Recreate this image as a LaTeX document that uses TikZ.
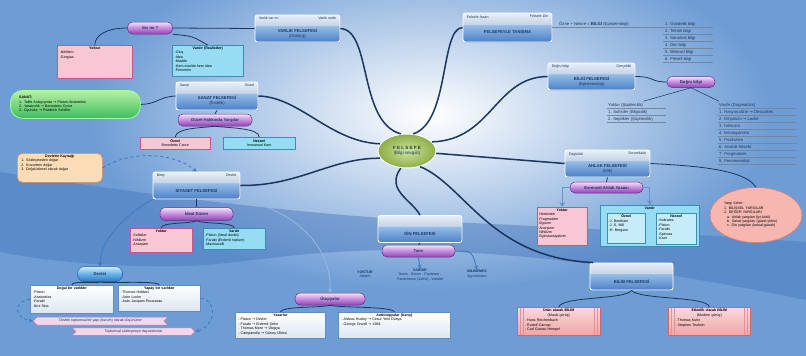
\documentclass[tikz,border=0pt]{standalone}
\usepackage{fontspec}
\setmainfont{Liberation Sans}
\newfontfamily\dejavu{DejaVu Sans}
\usetikzlibrary{calc,shadows,shapes.geometric,shapes.symbols,arrows.meta}
\setlength{\parindent}{0pt}
\definecolor{bgblue}{HTML}{6E9DD5}
\definecolor{bgdark}{HTML}{4676BC}
\definecolor{navy}{HTML}{1B355F}
\definecolor{hdtop}{HTML}{E8EFF7}
\definecolor{hdbot}{HTML}{C4D4E8}
\definecolor{tttop}{HTML}{97BDE7}
\definecolor{ttbot}{HTML}{4A80C8}
\definecolor{pltop}{HTML}{F6E2F9}
\definecolor{plmid}{HTML}{C78FE0}
\definecolor{plbot}{HTML}{8C45B2}
\definecolor{plline}{HTML}{6A2F8E}
\definecolor{bltop}{HTML}{D2EEFB}
\definecolor{blmid}{HTML}{6DB6EA}
\definecolor{blbot}{HTML}{2C78C4}
\definecolor{blline}{HTML}{1E5C9C}
\definecolor{pinkfill}{HTML}{F9C6D5}
\definecolor{pinkline}{HTML}{C45A82}
\definecolor{cyanfill}{HTML}{96DDF3}
\definecolor{cyanline}{HTML}{3A8DB6}
\definecolor{grtop}{HTML}{B6F0A8}
\definecolor{grbot}{HTML}{3DBE5A}
\definecolor{orfill}{HTML}{FCDDB8}
\definecolor{orline}{HTML}{E08A4A}
\definecolor{redtop}{HTML}{FADADA}
\definecolor{redbot}{HTML}{F2A4A6}
\definecolor{redline}{HTML}{D2646C}
\definecolor{circfill}{HTML}{F7B7B0}
\definecolor{circline}{HTML}{D9806E}
\definecolor{grayfill}{HTML}{DCE6F2}
\definecolor{grayline}{HTML}{5E8CC4}
\definecolor{ribfill}{HTML}{F1D6EC}
\definecolor{ribline}{HTML}{B27AAE}
\definecolor{arrblue}{HTML}{3F7BC4}
\definecolor{flgreen}{HTML}{A6CC52}
\pgfdeclareverticalshading{boxshade}{100bp}{color(0bp)=(ttbot); color(25bp)=(ttbot); color(54.5bp)=(tttop); color(55.5bp)=(hdbot); color(75bp)=(hdtop); color(100bp)=(hdtop)}
\pgfdeclareverticalshading{pillshade}{100bp}{color(0bp)=(plbot); color(25bp)=(plbot); color(52bp)=(plmid); color(75bp)=(pltop); color(100bp)=(pltop)}
\pgfdeclareverticalshading{bpillshade}{100bp}{color(0bp)=(blbot); color(25bp)=(blbot); color(52bp)=(blmid); color(75bp)=(bltop); color(100bp)=(bltop)}
\newcommand{\fs}{\fontsize{3.6}{4.4}\selectfont}
\newcommand{\fm}{\fontsize{4.2}{5}\selectfont}
\newcommand{\hdc}[1]{\makebox[\hsize]{\textbf{#1}}}
\newcommand{\rarr}{{\dejavu →}}
\tikzset{
 mainbox/.style={rectangle, rounded corners=2.5pt, draw=white, line width=0.9pt, shading=boxshade, drop shadow={opacity=0.35, shadow xshift=0.7pt, shadow yshift=-0.9pt}},
 hdr/.style={font=\fs, text=navy, inner sep=0pt},
 ttl/.style={font=\fontsize{4.2}{5}\selectfont\bfseries, text=navy, align=center, inner sep=0pt},
 pill/.style={rectangle, rounded corners=5pt, draw=plline, line width=0.5pt, shading=pillshade, font=\fm\bfseries, text=navy, inner sep=0pt},
 bpill/.style={pill, draw=blline, shading=bpillshade},
 pinkbox/.style={rectangle, draw=pinkline, fill=pinkfill, line width=0.5pt},
 cyanbox/.style={rectangle, draw=cyanline, fill=cyanfill, line width=0.5pt},
 lcyanbox/.style={rectangle, draw=cyanline, fill=cyanfill!55!white, line width=0.5pt},
 graybox/.style={rectangle, draw=grayline, top color=white, bottom color=grayfill, line width=0.6pt},
 orbox/.style={rectangle, rounded corners=5pt, draw=orline, fill=orfill, line width=0.6pt},
 greenbox/.style={rectangle, rounded corners=12pt, draw=white!60!green, line width=0.8pt, top color=grtop, bottom color=grbot},
 redbox/.style={rectangle, draw=redline, top color=redtop, bottom color=redbot, line width=0.6pt,
   path picture={\foreach \i in {3,6}{\draw[redline!70, line width=0.3pt] ($(path picture bounding box.north west)+(\i pt,0)$) -- ($(path picture bounding box.south west)+(\i pt,0)$); \draw[redline!70, line width=0.3pt] ($(path picture bounding box.north east)+(-\i pt,0)$) -- ($(path picture bounding box.south east)+(-\i pt,0)$);}}},
 ribbonbox/.style={shape=signal, draw=ribline, fill=ribfill, line width=0.5pt, font=\fs, text=navy, inner sep=0.5pt},
 boxtext/.style={font=\fs, align=left, inner sep=0pt, text=black},
 listitem/.style={font=\fm, inner sep=0pt, text=navy},
 xplain/.style={font=\fs, align=center, inner sep=0pt, text=navy},
 conn/.style={draw=navy, line width=1.5pt},
 xsub/.style={draw=navy, line width=0.8pt},
 xrule/.style={draw=navy!60, line width=0.4pt},
 xarr/.style={draw=arrblue, line width=0.9pt, -{Stealth[length=4pt,width=4pt]}},
 xdash/.style={draw=arrblue, line width=0.9pt, dashed, -{Stealth[length=4pt,width=4pt]}},
 xbarr/.style={draw=arrblue!80!white, line width=1.4pt, -{Stealth[length=5pt,width=6pt]}},
}
\newcommand{\felbox}[7]{%
 \node[mainbox, minimum width=#3, minimum height=#4] (#1) at (#2) {};
 \node[hdr, anchor=north west] (#1L) at ($(#1.north west)+(4,2.5)$) {#5};
 \node[hdr, anchor=north east] (#1R) at ($(#1.north east)+(-4,2.5)$) {#6};
 \node[ttl] (#1T) at ($(#1.center)+(0,5)$) {#7};
}
\newcommand{\tbox}[7]{%
 \node[#1, minimum width=#4, minimum height=#5, anchor=north west] (#2) at (#3) {};
 \node[boxtext, anchor=north, text width=#7] (#2t) at ($(#2.north)+(0,1.6)$) {#6};
}
\begin{document}
\begin{tikzpicture}[x=1pt,y=-1pt]
\useasboundingbox (0,0) rectangle (806,356);
\begin{scope}
\clip (0,0) rectangle (806,356);
\fill[bgblue] (0,0) rectangle (806,356);
\shade[inner color=white, outer color=bgblue] (430,115) ellipse [x radius=340pt, y radius=175pt];
\fill[bgdark, opacity=0.45] (0,172) .. controls (150,195) and (300,215) .. (450,222) .. controls (600,229) and (720,236) .. (806,242) -- (806,300) .. controls (650,268) and (520,252) .. (400,250) .. controls (300,250) and (250,263) .. (190,266) .. controls (120,268) and (50,262) .. (0,252) -- cycle;
\end{scope}

% central node
\node[ellipse, minimum width=58pt, minimum height=34pt, draw=white, line width=1pt, inner color=flgreen!55!white, outer color=flgreen!85!black, font=\fontsize{4.5}{5.4}\selectfont, align=center, text=navy] (felsefe) at (407,151) {\textbf{F E L S E F E}\\(Bilgi sevgisi)};

% main boxes
\felbox{varlik}{297.5,28.5}{85pt}{27pt}{Varlık var mı}{Varlık nedir}{VARLIK FELSEFESİ\\{\mdseries(Ontoloji)}}
\felbox{tanisma}{507.5,27.5}{89pt}{29pt}{Felsefe-İnsan}{Felsefe-Din}{FELSEFEYLE TANIŞMA}
\felbox{bilgi}{591.5,76.5}{87pt}{27pt}{Doğru bilgi}{Gerçeklik}{BİLGİ FELSEFESİ\\{\mdseries(Epistemoloji)}}
\felbox{sanat}{217,96}{82pt}{28pt}{Sanat}{Güzel}{SANAT FELSEFESİ\\{\mdseries(Estetik)}}
\felbox{siyaset}{196.5,185.5}{87pt}{27pt}{Birey}{Devlet}{SİYASET FELSEFESİ}
\felbox{din}{420,229}{84pt}{27pt}{}{}{DİN FELSEFESİ}
\felbox{ahlak}{607.5,163.5}{85pt}{27pt}{Özgürlük}{Sorumluluk}{AHLAK FELSEFESİ\\{\mdseries(Etik)}}
\felbox{bilim}{631.5,276.5}{83pt}{27pt}{}{}{BİLİM FELSEFESİ}

% pills
\node[pill, minimum width=45pt, minimum height=12pt] (pvar) at (150,28) {Var mı ?};
\node[pill, minimum width=74pt, minimum height=12pt] (psan) at (215,120) {Güzel Hakkında Yargılar};
\node[pill, minimum width=73pt, minimum height=13pt] (psiy) at (196.5,214) {İdeal Düzen};
\node[pill, minimum width=73pt, minimum height=11pt] (pahl) at (606.5,187.5) {Evrensel Ahlak Yasası};
\node[pill, minimum width=48pt, minimum height=11pt] (pbil) at (691,82) {Doğru bilgi};
\node[pill, minimum width=73pt, minimum height=12pt] (pdin) at (418.5,251) {Tanrı};
\node[pill, minimum width=70pt, minimum height=12pt] (puto) at (330,299) {Ütopyalar};
\node[bpill, minimum width=45pt, minimum height=15pt, rounded corners=7pt] (pdev) at (100,274) {Devlet};

% varlik boxes
\tbox{pinkbox}{vyok}{57,45}{75pt}{33pt}{\hdc{Yoktur}\\-Nihilizm\\-Gorgias}{70pt}
\tbox{cyanbox}{vvar}{172,45}{71pt}{31pt}{\hdc{Vardır (Realistler)}\\-Oluş\\-İdea\\-Madde\\-Hem madde hem idea\\-Fenomen}{66pt}

% sanat
\node[greenbox, minimum width=130pt, minimum height=28pt, anchor=north west] (gsan) at (10,90) {};
\node[boxtext, anchor=west, text width=118pt] (gsant) at ($(gsan.west)+(9,0)$) {\textbf{SANAT:}\\1. Taklit Anlayışında \rarr{} Platon-Aristoteles\\2. Yaratıcılık \rarr{} Benedetto Croce\\3. Oyundur \rarr{} Friedrich Schiller};
\node[pinkbox, minimum width=70pt, minimum height=12pt, anchor=north west, font=\fs, align=center, inner sep=0.5pt] (soz) at (140,137) {\textbf{Öznel}\\Benedetto Croce};
\node[cyanbox, minimum width=72pt, minimum height=12pt, anchor=north west, font=\fs, align=center, inner sep=0.5pt] (snes) at (223,137) {\textbf{Nesnel}\\Immanuel Kant};

% siyaset
\tbox{orbox}{kaynak}{17,153}{85pt}{29pt}{\hdc{Devletin Kaynağı}\\1. Sözleşmeden doğar\\2. Kuvvetten doğar\\3. Doğal/ailesel olarak doğar}{77pt}
\tbox{pinkbox}{syok}{130,228}{62pt}{24pt}{\hdc{Yoktur}\\-Sofistler\\-Nihilizm\\-Anarşizm}{58pt}
\tbox{cyanbox}{svar}{203,228}{62pt}{21pt}{\hdc{Vardır}\\-Platon (İdeal devlet)\\-Farabi (Erdemli toplum)\\-Machiavelli}{58pt}
\tbox{graybox}{dogal}{30,285}{83pt}{28pt}{\hdc{Doğal bir varlıktır}\\-Platon\\-Aristoteles\\-Farabi\\-İbni Sina}{77pt}
\tbox{graybox}{yapay}{118,285}{82pt}{26pt}{\hdc{Yapay bir varlıktır}\\-Thomas Hobbes\\-John Locke\\-Jean Jacques Rousseau}{76pt}
\node[ribbonbox, signal to=west, signal from=east, minimum width=135pt, minimum height=8pt] (rib1) at (100.5,321) {Devleti toplumsal bir yapı (kurum) olarak düşünürler};
\node[ribbonbox, signal to=east, signal from=west, minimum width=123pt, minimum height=7.5pt] (rib2) at (133.5,331.5) {Toplumsal sözleşmeye dayandırırlar};
\tbox{graybox}{yaz}{235,312}{90pt}{26pt}{\hdc{Yazarlar}\\- Platon \rarr{} Devlet\\- Farabi \rarr{} Erdemli Şehir\\- Thomas More \rarr{} Ütopya\\- Campanella \rarr{} Güneş Ülkesi}{84pt}
\tbox{graybox}{anti}{338,312}{112pt}{26pt}{\hdc{Antiütopyalar (Karşı)}\\- Aldous Huxley \rarr{} Cesur Yeni Dünya\\- George Orwell \rarr{} 1984}{106pt}

% din
\node[xplain] (dyok) at (365,274) {\textbf{YOKTUR}\\Ateizm};
\node[xplain] (dvar) at (420,275) {\textbf{VARDIR}\\Teizm - Deizm - Panteizm -\\Panenteizm (Varlık) - Vahdet};
\node[xplain] (dbil) at (477,274) {\textbf{BİLİNEMEZ}\\Agnostisizm};

% ahlak
\tbox{pinkbox}{ayok}{537,207}{50pt}{38pt}{\hdc{Yoktur}\\Hedonizm\\Pragmatizm\\Egoizm\\Anarşizm\\Nihilizm\\Egzistansiyalizm}{46pt}
\node[cyanbox, minimum width=99pt, minimum height=41pt, anchor=north west] (avar) at (600,205) {};
\node[boxtext, anchor=north, font=\fs\bfseries] (avart) at ($(avar.north)+(0,1.5)$) {Vardır};
\tbox{lcyanbox}{aoz}{607,213}{38pt}{30pt}{\hdc{Öznel}\\-J. Bentham\\-J. S. Mill\\-H. Bergson}{35pt}
\tbox{lcyanbox}{anes}{656,213}{40pt}{31pt}{\hdc{Nesnel}\\-Sokrates\\-Platon\\-Farabi\\-Spinoza\\-Kant}{36pt}
\node[ellipse, minimum width=92pt, minimum height=55pt, draw=circline, fill=circfill, line width=0.6pt] (yargi) at (756,215) {};
\node[boxtext, text width=70pt] (yargit) at (759,215) {Yargı türleri:\\1. BİLİŞSEL YARGILAR\\2. DEĞER YARGILARI\\\hspace*{3pt}a. Ahlak yargıları (iyi-kötü)\\\hspace*{3pt}b. Sanat yargıları (güzel-çirkin)\\\hspace*{3pt}c. Din yargıları (kutsal-günah)};

% bilim
\tbox{redbox}{urun}{517,307}{83pt}{28pt}{\hdc{Ürün olarak BİLİM}\\\makebox[\hsize]{(Klasik görüş)}\\[1pt]- Hans Reichenbach\\- Rudolf Carnap\\- Carl Gustav Hempel}{68pt}
\tbox{redbox}{etk}{668,307}{82pt}{28pt}{\hdc{Etkinlik olarak BİLİM}\\\makebox[\hsize]{(Modern görüş)}\\[1pt]- Thomas Kuhn\\- Stephen Toulmin}{68pt}

% bilgi lists
\node[listitem, anchor=base west] (ozne) at (559,25.5) {Özne + Nesne = \textbf{BİLGİ} (Epistemoloji)};
\draw[xrule] (tanisma.east) -- (713,27.5);
\foreach \itm [count=\k from 0] in {1. Gündelik bilgi, 2. Teknik bilgi, 3. Sanatsal bilgi, 4. Dini bilgi, 5. Bilimsel bilgi, 6. Felsefi bilgi}{
  \node[listitem, anchor=base west] (gb\k) at (665,25.5+7*\k) {\itm};
  \draw[xrule] (663,27.5+7*\k) -- (713,27.5+7*\k);
}
\node[listitem, anchor=base west] (byh) at (608,106) {Yoktur (Şüphecilik)};
\draw[xrule] (607,108) -- (666,108);
\foreach \itm [count=\k from 1] in {1. Sofistler (Bilgicilik), 2. Septikler (Şüphecilik)}{
  \node[listitem, anchor=base west] (by\k) at (608,106+7*\k) {\itm};
  \draw[xrule] (607,108+7*\k) -- (666,108+7*\k);
}
\node[listitem, anchor=base west] (bvh) at (719,106) {Vardır (Dogmatizm)};
\draw[xrule] (718,108) -- (797,108);
\foreach \itm [count=\k from 1] in {1. Rasyonalizm \rarr{} Descartes, 2. Empirizm \rarr{} Locke, 3. Kritisizm, 4. Entüisyonizm, 5. Pozitivizm, 6. Analitik felsefe, 7. Pragmatizm, 8. Fenomenoloji}{
  \node[listitem, anchor=base west] (bv\k) at (719,106+7*\k) {\itm};
  \draw[xrule] (718,108+7*\k) -- (797,108+7*\k);
}

% main connectors
\draw[conn] (varlik.east) .. controls (372,30) and (358,122) .. (felsefe.110);
\draw[conn] (tanisma.west) .. controls (440,28) and (450,122) .. (felsefe.70);
\draw[conn] (bilgi.west) .. controls (495,77) and (492,140) .. (felsefe.20);
\draw[conn] (sanat.east) .. controls (300,97) and (330,142) .. (felsefe.165);
\draw[conn] (siyaset.east) .. controls (300,186) and (330,158) .. (felsefe.195);
\draw[conn] (ahlak.west) -- (felsefe);
\draw[conn] (felsefe.250) .. controls (385,190) and (412,200) .. (din.north);
\draw[conn] (felsefe.-50) .. controls (465,185) and (490,258) .. (bilim.160);

% secondary connectors
\draw[xsub] (varlik.west) -- (pvar.east);
\draw[xsub] (pvar.west) .. controls (105,28) and (95,36) .. (vyok.north);
\draw[xsub] (pvar.south east) .. controls (192,36) .. (vvar.north);
\draw[xsub] (gsan.east) .. controls (158,104) and (158,97) .. (sanat.west);
\draw[xsub] (sanat.south) -- (psan.north);
\draw[xsub] (psan.south) .. controls (200,128) and (176,128) .. (soz.north);
\draw[xsub] (psan.south) .. controls (230,128) and (259,128) .. (snes.north);
\draw[xdash] (kaynak.east) .. controls (135,148) and (178,155) .. (siyaset.north);
\draw[xsub] (siyaset.south) -- (psiy.north);
\draw[xsub] (psiy.south) .. controls (190,224) and (161,222) .. (syok.north);
\draw[xsub] (psiy.south) .. controls (203,224) and (234,222) .. (svar.north);
\draw[xarr] (siyaset.south west) .. controls (125,215) and (100,240) .. (pdev.north);
\draw[xarr, draw=arrblue!55!white] (siyaset.south east) .. controls (300,212) and (332,250) .. (puto.north);
\draw[xsub] (pdev.south) .. controls (100,284) and (72,280) .. (dogal.north);
\draw[xsub] (pdev.south) .. controls (100,284) and (159,280) .. (yapay.north);
\draw[xdash] (dogal.west) .. controls (12,302) and (14,318) .. (rib1.west);
\draw[xdash] (yapay.east) .. controls (218,300) and (216,326) .. (rib2.east);
\draw[xsub] (puto.south) .. controls (320,308) and (282,306) .. (yaz.north);
\draw[xsub] (puto.south) .. controls (340,308) and (392,306) .. (anti.north);
\draw[xsub] (din.south) -- (pdin.north);
\draw[xarr] (pdin.south) -- (dvar.north);
\draw[xarr] (pdin.east) .. controls (472,251) .. (dbil.north);
\draw[xsub] (ahlak.south) -- (pahl.north);
\draw[xbarr] (pahl.west) -| (ayok.north);
\draw[xbarr] (pahl.east) -| (avar.north);
\draw[xsub] (ahlak.east) .. controls (700,166) and (745,170) .. (yargi.north);
\draw[xsub] (bilgi.east) .. controls (655,76.5) and (650,82) .. (pbil.west);
\draw[xsub, line width=0.5pt] (pbil.south) -- ($(byh.north east)+(0,-1.5)$);
\draw[xsub, line width=0.5pt] (pbil.south) -- ($(bvh.north west)+(0,-1.5)$);
\draw[xsub] (bilim.south) .. controls (625,300) and (562,296) .. (urun.north);
\draw[xsub] (bilim.south) .. controls (640,300) and (708,296) .. (etk.north);
\end{tikzpicture}
\end{document}
